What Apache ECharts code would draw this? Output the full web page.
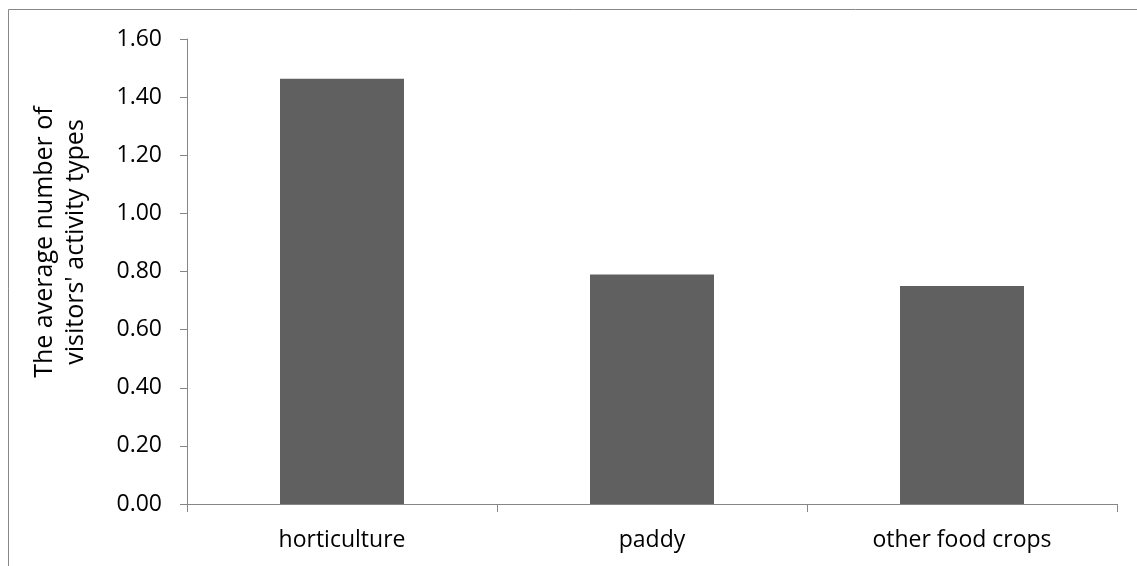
<!DOCTYPE html>
<html><head><meta charset="utf-8">
<script src="https://cdn.jsdelivr.net/npm/echarts@6/dist/echarts.min.js"></script>
<style>html,body{margin:0;padding:0;background:#fff}#c{width:1137px;height:566px}</style>
</head><body><div id="c"></div>
<script>
const categories = ["horticulture", "paddy", "other food crops"];
const values = [1.463, 0.79, 0.75];
const yAxisTitleLines = ["The average number of", "visitors' activity types"];
const FONT = "Open Sans";
const chart = echarts.init(document.getElementById('c'), null, {renderer: 'canvas'});
chart.setOption({
  animation: false,
  backgroundColor: '#fff',
  grid: {left: 187, right: 20, top: 39, bottom: 62, containLabel: false},
  xAxis: {
    type: 'category', data: categories,
    axisLine: {lineStyle: {color: '#868686', width: 1}},
    axisTick: {show: true, alignWithLabel: false, length: 8, lineStyle: {color: '#868686'}},
    axisLabel: {color: '#000', fontFamily: FONT, fontSize: 23, margin: 25},
    splitLine: {show: false}
  },
  yAxis: {
    type: 'value', min: 0, max: 1.6, interval: 0.2,
    axisLine: {show: true, lineStyle: {color: '#868686', width: 1}},
    axisTick: {show: true, length: 7, inside: false, lineStyle: {color: '#868686'}},
    axisLabel: {color: '#000', fontFamily: FONT, fontSize: 23, margin: 25, formatter: v => v.toFixed(2)},
    splitLine: {show: false}
  },
  series: [{
    type: 'bar', data: values, barWidth: '40%',
    itemStyle: {color: '#606060'}
  }],
  graphic: [
    {type: 'rect', shape: {x: 8.5, y: 9.5, width: 1200, height: 700}, style: {fill: 'none', stroke: '#878787', lineWidth: 1}, z: 100},
    {type: 'text', x: 60, y: 242, rotation: Math.PI / 2,
     style: {text: yAxisTitleLines.join('\n'), font: '25px "' + FONT + '"', fill: '#000', align: 'center', verticalAlign: 'middle', lineHeight: 31}}
  ]
});
</script></body></html>
